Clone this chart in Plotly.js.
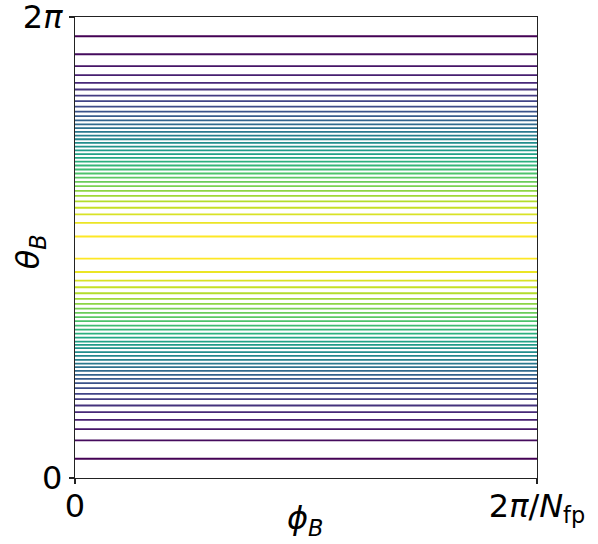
<!DOCTYPE html>
<html>
<head>
<meta charset="utf-8">
<script src="https://cdn.plot.ly/plotly-3.0.1.min.js"></script>
<style>html,body{margin:0;padding:0;background:#fff;}#chart{width:598px;height:544px;}</style>
</head>
<body>
<div id="chart"></div>
<script>
// Contour line positions, theta in units of pi, ordered from outer (lowest level) to inner (highest level)
const thetaUpper = [1.9164, 1.8384, 1.7873, 1.7474, 1.7140, 1.6854, 1.6586, 1.6348, 1.6109, 1.5893,
  1.5698, 1.5516, 1.5342, 1.5178, 1.5017, 1.4857, 1.4697, 1.4536, 1.4376, 1.4216,
  1.4055, 1.3891, 1.3726, 1.3557, 1.3384, 1.3211, 1.3033, 1.2851, 1.2660, 1.2457,
  1.2236, 1.2002, 1.1724, 1.1438, 1.1070, 1.0477];
const thetaLower = [0.0836, 0.1629, 0.2123, 0.2526, 0.2860, 0.3146, 0.3423, 0.3653, 0.3899, 0.4116,
  0.4302, 0.4476, 0.4649, 0.4809, 0.4965, 0.5126, 0.5299, 0.5459, 0.5633, 0.5775,
  0.5919, 0.6092, 0.6265, 0.6438, 0.6612, 0.6802, 0.6976, 0.7162, 0.7348, 0.7552,
  0.7769, 0.8016, 0.8276, 0.8562, 0.8938, 0.9515];
// Contour level index of each line (0 = lowest)
const levelIndex = Array.from({length: 36}, (_, i) => i);
const xTickLabels = ['0', '2<i>π</i>/<i>N</i><sub>fp</sub>'];
const yTickLabels = ['0', '2<i>π</i>'];
const xTitle = '<i>ϕ</i><sub><i>B</i></sub>';
const yTitle = '<i>θ</i><sub><i>B</i></sub>';
const phiRange = [0, 1]; // 0 .. 2pi/Nfp (normalized)

const viridis = ['#440154','#482475','#414487','#355f8d','#2a788e','#21918c','#22a884','#44bf70','#7ad151','#bddf26','#fde725'];
function hex2rgb(h){return [parseInt(h.slice(1,3),16),parseInt(h.slice(3,5),16),parseInt(h.slice(5,7),16)];}
function cmap(t){
  const s = t*(viridis.length-1); const i = Math.min(Math.floor(s), viridis.length-2); const f = s-i;
  const a = hex2rgb(viridis[i]), b = hex2rgb(viridis[i+1]);
  const c = a.map((v,k)=>Math.round(v+(b[k]-v)*f));
  return 'rgb('+c.join(',')+')';
}
const nLev = levelIndex.length;
const traces = [];
[thetaUpper, thetaLower].forEach(arr => {
  arr.forEach((th, i) => {
    traces.push({
      type: 'scatter', mode: 'lines',
      x: phiRange, y: [th*Math.PI, th*Math.PI],
      line: {color: cmap(levelIndex[i]/(nLev-1)), width: 1.8},
      hoverinfo: 'skip', showlegend: false
    });
  });
});

const tickFont = {family: 'DejaVu Sans', size: 32, color: '#000'};
const titleFont = {family: 'DejaVu Sans', size: 32, color: '#000'};
const layout = {
  width: 598, height: 544,
  margin: {l: 75, r: 61, t: 17, b: 66, pad: 0},
  paper_bgcolor: '#fff', plot_bgcolor: '#fff',
  showlegend: false,
  xaxis: {
    range: [0, 1], tickvals: [0, 1], ticktext: xTickLabels,
    showgrid: false, zeroline: false,
    showline: true, linecolor: '#222', linewidth: 1.2, mirror: true,
    ticks: 'outside', ticklen: 5, tickcolor: '#222', tickwidth: 1.2,
    tickfont: tickFont, ticklabeloverflow: 'allow', automargin: false,
    ticklabelstandoff: -6
  },
  yaxis: {
    range: [0, 2*Math.PI], tickvals: [0, 2*Math.PI], ticktext: yTickLabels,
    showgrid: false, zeroline: false,
    showline: true, linecolor: '#222', linewidth: 1.2, mirror: true,
    ticks: 'outside', ticklen: 5, tickcolor: '#222', tickwidth: 1.2,
    tickfont: tickFont, ticklabeloverflow: 'allow', automargin: false
  },
  annotations: [
    {text: xTitle, xref: 'paper', yref: 'paper', x: 0.498, y: -0.092, xanchor: 'center', yanchor: 'middle', showarrow: false, font: titleFont},
    {text: yTitle, xref: 'paper', yref: 'paper', x: -0.097, y: 0.49, xanchor: 'center', yanchor: 'middle', showarrow: false, textangle: -90, font: titleFont}
  ]
};
Plotly.newPlot('chart', traces, layout, {displayModeBar: false, staticPlot: true});
</script>
</body>
</html>
